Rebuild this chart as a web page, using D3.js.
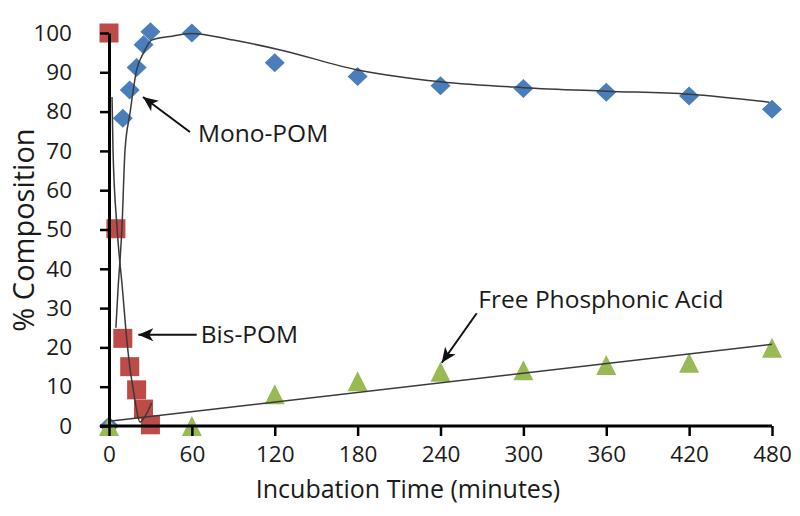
<!DOCTYPE html>
<html><head><meta charset="utf-8">
<script src="https://cdn.jsdelivr.net/npm/d3@7"></script>
<style>body{margin:0;background:#fff} svg text{font-family:"Open Sans",sans-serif}</style>
</head><body><svg id="c" width="800" height="516"></svg>
<script>
// ---- data ----
const monoTimes = [0, 10, 15, 20, 25, 30, 60, 120, 180, 240, 300, 360, 420, 480];
const monoValues = [0, 78.3, 85.5, 91.2, 97.0, 100.3, 100.0, 92.4, 88.9, 86.6, 85.9, 84.9, 84.0, 80.6];
const bisTimes = [0, 5, 10, 15, 20, 25, 30];
const bisValues = [100, 50.2, 22.3, 15.1, 9.2, 4.3, 0.3];
const acidTimes = [0, 60, 120, 180, 240, 300, 360, 420, 480];
const acidValues = [0, 0, 8.1, 11.4, 13.8, 14.2, 15.5, 16.1, 19.9];

// fitted trend curves
const monoFitTimes = [5, 6.5, 9.4, 11.6, 15.2, 20, 24.8, 30.9, 44, 59, 90, 124, 180, 240, 300, 360, 420, 478];
const monoFitValues = [25, 34.6, 50.6, 70.2, 79.6, 90.6, 94.8, 98.2, 99.1, 99.9, 98.2, 95.7, 90.6, 87.6, 86.1, 85.2, 84.4, 82.4];
const bisFitTimes = [2.2, 2.9, 5.8, 9.8, 12.8, 15.2, 17.6, 20, 22.4, 25.3, 30.9];
const bisFitValues = [83.7, 70.2, 50.6, 34.6, 22.3, 14.7, 9.2, 4.1, 1.0, 2.0, 5.9];
const acidFitTimes = [0, 480];
const acidFitValues = [1.2, 20.8];

const xTicks = [0, 60, 120, 180, 240, 300, 360, 420, 480];
const yTicks = [0, 10, 20, 30, 40, 50, 60, 70, 80, 90, 100];
const xTitle = "Incubation Time (minutes)";
const yTitle = "% Composition";

// annotations (in data units)
const annLabels = ["Mono-POM", "Bis-POM", "Free Phosphonic Acid"];
const annTipT = [24.6, 21.2, 240.9];
const annTipV = [83.7, 23.2, 16.1];
const annTailT = [58.6, 63.5, 266.2];
const annTailV = [74.8, 23.2, 28.7];
const annTextT = [64.4, 66.4, 267.4];
const annTextV = [72.3, 21.0, 29.9];

// ---- drawing ----
const svg = d3.select('#c');
svg.append('rect').attr('width', 800).attr('height', 516).attr('fill', '#fff');
const x = d3.scaleLinear().domain([0, 480]).range([109, 772]);
const y = d3.scaleLinear().domain([0, 100]).range([426, 33]);

const colors = {mono: '#4A7EBB', bis: '#BE4B48', acid: '#98B954'};

const zip = (t, v) => t.map((d, i) => [d, v[i]]);

// markers
const gPts = svg.append('g');
gPts.selectAll('path.mono').data(zip(monoTimes, monoValues)).join('path')
  .attr('class', 'mono')
  .attr('d', 'M0,-9.5L10,0L0,9.5L-10,0Z')
  .attr('transform', d => `translate(${x(d[0])},${y(d[1])})`)
  .attr('fill', colors.mono);
gPts.selectAll('path.bis').data(zip(bisTimes, bisValues)).join('path')
  .attr('class', 'bis')
  .attr('d', 'M-9.5,-9.5H9.5V9.5H-9.5Z')
  .attr('transform', d => `translate(${x(d[0])},${y(d[1])})`)
  .attr('fill', colors.bis);
gPts.selectAll('path.acid').data(zip(acidTimes, acidValues)).join('path')
  .attr('class', 'acid')
  .attr('d', 'M0,-10L10,10H-10Z')
  .attr('transform', d => `translate(${x(d[0])},${y(d[1])})`)
  .attr('fill', colors.acid);

// fit lines
const line = d3.line().x(d => x(d[0])).y(d => y(d[1])).curve(d3.curveMonotoneX);
[[monoFitTimes, monoFitValues], [bisFitTimes, bisFitValues], [acidFitTimes, acidFitValues]].forEach(([t, v]) => {
  svg.append('path').attr('d', line(zip(t, v)))
    .attr('fill', 'none').attr('stroke', '#3a3a3a').attr('stroke-width', 1.5);
});

// axes
const yAxis = svg.append('g').attr('transform', `translate(${x(0)},0)`)
  .call(d3.axisLeft(y).tickValues(yTicks).tickSize(9).tickPadding(28).tickSizeOuter(0));
const xAxis = svg.append('g').attr('transform', `translate(0,${y(0)})`)
  .call(d3.axisBottom(x).tickValues(xTicks).tickSize(10).tickPadding(10).tickSizeOuter(0));
[yAxis, xAxis].forEach(g => {
  g.select('.domain').attr('stroke', '#000').attr('stroke-width', 3);
  g.selectAll('.tick line').attr('stroke', '#000').attr('stroke-width', 2.5);
  g.selectAll('.tick text').attr('fill', '#1a1a1a').attr('font-size', 22.5)
    .attr('font-family', '"Open Sans", sans-serif');
});
xAxis.select('.domain').attr('d', `M${x(0) - 9},0H${x(480)}`);

// titles
svg.append('text').attr('x', 408).attr('y', 498).attr('text-anchor', 'middle')
  .attr('font-size', 25).attr('fill', '#1a1a1a').text(xTitle);
svg.append('text').attr('transform', 'translate(34,230) rotate(-90)').attr('text-anchor', 'middle')
  .attr('font-size', 29).attr('fill', '#1a1a1a').text(yTitle);

// annotations
svg.append('defs').append('marker').attr('id', 'ah')
  .attr('viewBox', '-16 -8 18 16').attr('refX', 0).attr('refY', 0)
  .attr('markerWidth', 18).attr('markerHeight', 16).attr('markerUnits', 'userSpaceOnUse')
  .attr('orient', 'auto')
  .append('path').attr('d', 'M0,0L-15,-6.5L-11,0L-15,6.5Z').attr('fill', '#111');
annLabels.forEach((lab, i) => {
  svg.append('line')
    .attr('x1', x(annTailT[i])).attr('y1', y(annTailV[i]))
    .attr('x2', x(annTipT[i])).attr('y2', y(annTipV[i]))
    .attr('stroke', '#111').attr('stroke-width', 2).attr('marker-end', 'url(#ah)');
  svg.append('text').attr('x', x(annTextT[i])).attr('y', y(annTextV[i]))
    .attr('font-size', 24.5).attr('fill', '#1a1a1a').text(lab);
});
</script></body></html>
